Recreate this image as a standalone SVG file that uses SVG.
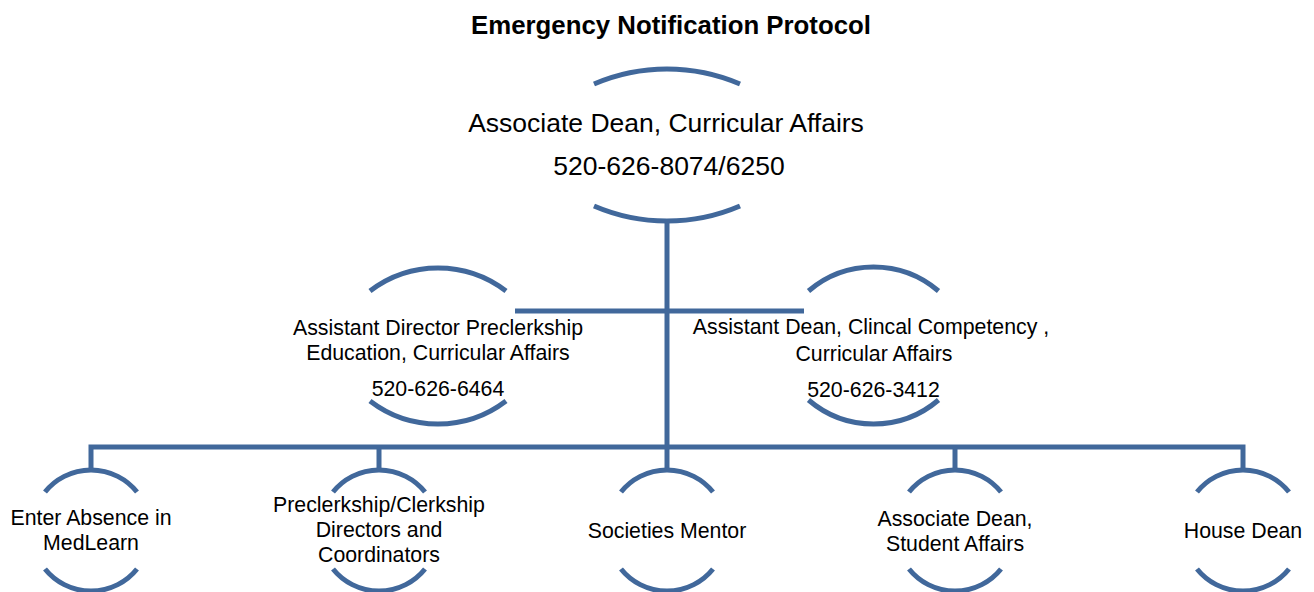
<svg xmlns="http://www.w3.org/2000/svg" width="1314" height="592" viewBox="0 0 1314 592">
<style>
.arc{fill:none;stroke:#41689B;stroke-width:5}
.ln{fill:none;stroke:#41689B;stroke-width:5;stroke-linejoin:miter}
text{font-family:"Liberation Sans",Arial,sans-serif;fill:#000;text-anchor:middle}
.t{font-size:26.5px}
.m{font-size:21.3px}
.title{font-size:25.8px;font-weight:bold}
</style>
<rect width="1314" height="592" fill="#fff"/>
<text class="title" x="671" y="34">Emergency Notification Protocol</text>
<g id="connectors">
<path class="ln" d="M667,219 V447"/>
<path class="ln" d="M515,311 H804"/>
<path class="ln" d="M91,471 V447 H1243 V471"/>
<path class="ln" d="M379,447 V471"/>
<path class="ln" d="M667,447 V471"/>
<path class="ln" d="M955,447 V471"/>
</g>
<g id="node-associate-dean-curricular">
<path class="arc" d="M594,84 A185,185 0 0 1 740,84"/>
<path class="arc" d="M594,206 A185,185 0 0 0 740,206"/>
<text class="t" x="666" y="131.5">Associate Dean, Curricular Affairs</text>
<text class="t" x="669" y="175">520-626-8074/6250</text>
</g>
<g id="node-assistant-director">
<path class="arc" d="M370,291 A112,112 0 0 1 506,291"/>
<path class="arc" d="M370,401 A112,112 0 0 0 506,401"/>
<text class="m" x="438" y="335">Assistant Director Preclerkship</text>
<text class="m" x="438" y="360">Education, Curricular Affairs</text>
<text class="m" x="438" y="396">520-626-6464</text>
</g>
<g id="node-assistant-dean">
<path class="arc" d="M808.5,291 A100,100 0 0 1 938.5,291"/>
<path class="arc" d="M808.5,400 A100,100 0 0 0 938.5,400"/>
<text class="m" x="871" y="334">Assistant Dean, Clincal Competency ,</text>
<text class="m" x="874" y="361">Curricular Affairs</text>
<text class="m" x="873.5" y="397">520-626-3412</text>
</g>
<g id="node-medlearn">
<path class="arc" d="M45,492 A59,59 0 0 1 137,492"/>
<path class="arc" d="M45,569 A59,59 0 0 0 137,569"/>
<text class="m" x="91" y="525">Enter Absence in</text>
<text class="m" x="91" y="550">MedLearn</text>
</g>
<g id="node-directors">
<path class="arc" d="M333,492 A59,59 0 0 1 425,492"/>
<path class="arc" d="M333,569 A59,59 0 0 0 425,569"/>
<text class="m" x="379" y="512">Preclerkship/Clerkship</text>
<text class="m" x="379" y="537">Directors and</text>
<text class="m" x="379" y="562">Coordinators</text>
</g>
<g id="node-societies">
<path class="arc" d="M621,492 A59,59 0 0 1 713,492"/>
<path class="arc" d="M621,569 A59,59 0 0 0 713,569"/>
<text class="m" x="667" y="538">Societies Mentor</text>
</g>
<g id="node-student-affairs">
<path class="arc" d="M909,492 A59,59 0 0 1 1001,492"/>
<path class="arc" d="M909,569 A59,59 0 0 0 1001,569"/>
<text class="m" x="955" y="526">Associate Dean,</text>
<text class="m" x="955" y="551">Student Affairs</text>
</g>
<g id="node-house-dean">
<path class="arc" d="M1197,492 A59,59 0 0 1 1289,492"/>
<path class="arc" d="M1197,569 A59,59 0 0 0 1289,569"/>
<text class="m" x="1243" y="538">House Dean</text>
</g>
</svg>
